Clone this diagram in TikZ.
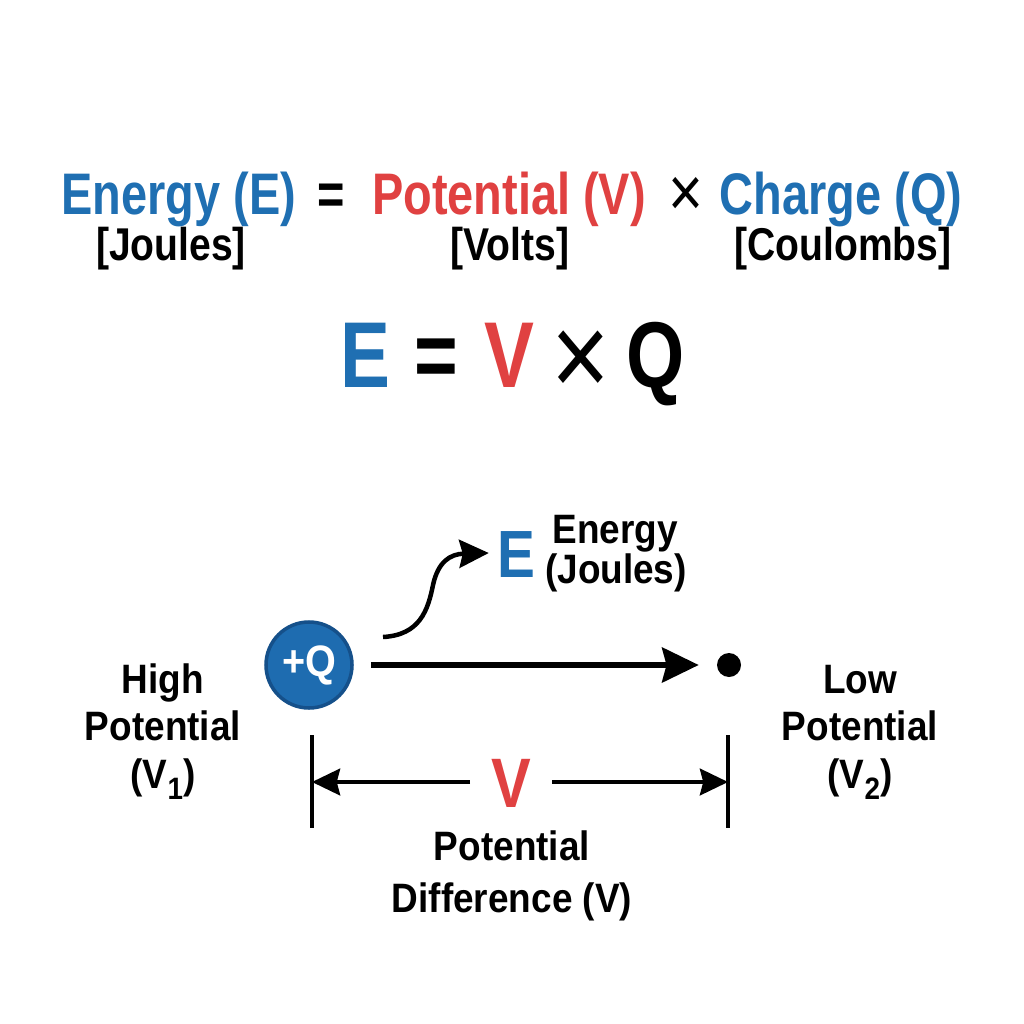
\documentclass[tikz,border=0pt]{standalone}
\usepackage{fontspec}
\setmainfont{Liberation Sans}[FakeStretch=0.85]
\newfontfamily\tfont{Liberation Sans}[FakeStretch=0.8]
\newfontfamily\lfont{Liberation Sans}[FakeStretch=0.9]
\usetikzlibrary{arrows.meta}
\definecolor{eblue}{HTML}{1F6FB2}
\definecolor{vred}{HTML}{E04141}
\definecolor{cblue}{HTML}{1E6CB0}
\definecolor{cdark}{HTML}{15508A}
\tikzset{
  txt/.style={inner sep=0pt, anchor=base, font=\bfseries\fontsize{#1}{#1}\selectfont},
  ttxt/.style={inner sep=0pt, anchor=base, font=\tfont\bfseries\fontsize{#1}{#1}\selectfont},
  sym/.style={inner sep=0pt, anchor=center, font=\fontsize{#1}{#1}\selectfont},
  title/.style={ttxt=41.7pt},
  unit/.style={txt=32.7pt},
  big/.style={ttxt=66.5pt},
  lab/.style={inner sep=0pt, anchor=base, align=center, font=\lfont\bfseries\fontsize{29.2pt}{29.2pt}\selectfont},
  tip/.style={-{Stealth[length=#1, inset=0.12*#1, width=0.95*#1]}},
}
\newcommand{\subsc}[1]{\raisebox{-0.28em}{\fontsize{22pt}{22pt}\selectfont #1}}
\begin{document}
\begin{tikzpicture}[x=0.025cm, y=-0.025cm]
\useasboundingbox[fill=white] (0,0) rectangle (1024,1024);
% title line
\node[title, text=eblue] (tE) at (179,215) {Energy (E)};
\node[title] (teq) at (331,215) {=};
\node[title, text=vred] (tV) at (509,215) {Potential (V)};
\node[sym=50pt, line width=0pt] (tx) at (686,197) {×};
\node[title, text=eblue] (tQ) at (841,215) {Charge (Q)};
% units
\node[unit] (uJ) at (171,260) {[Joules]};
\node[unit] (uV) at (510,260) {[Volts]};
\node[unit] (uC) at (843,260) {[Coulombs]};
% big formula
\node[big, text=eblue] (bE) at (365,387) {E};
\node[big] (beq) at (436,387) {=};
\node[big, text=vred] (bV) at (509,387) {V};
\node[sym=84pt] (bx) at (581,364) {×};
\node[big] (bQ) at (656,387) {Q};
% charge and path
\node[circle, fill=cblue, draw=cdark, line width=2.5pt, minimum size=86*0.025cm, inner sep=0pt,
      text=white, font=\lfont\bfseries\fontsize{31.3pt}{31.3pt}\selectfont] (q) at (309,665) {+Q};
\node[circle, fill=black, minimum size=24*0.025cm, inner sep=0pt] (dot) at (729,665) {};
\draw[line width=4.3pt, tip=26pt] (q.east) ++(17,0) coordinate (qs) -- ([xshift=-18*0.025cm]dot.west);
% energy label
\node[txt=47.5pt, text=eblue] (sE) at (516,577) {E};
\node[lab] (en1) at (615,543) {Energy};
\node[lab] (en2) at (616,583) {(Joules)};
\coordinate (cs) at (383,637);
\coordinate (cm) at (433,585);
\draw[line width=3.2pt, tip=21pt] (cs) .. controls (420,635) and (428,610) .. (cm)
   .. controls (438,562) and (450,554) .. ([xshift=-8*0.025cm]sE.west |- 0,553);
% side labels
\node[lab] (h1) at (163,693) {High};
\node[lab] (h2) at (163,740) {Potential};
\node[lab] (h3) at (163,788) {(V\subsc{1})};
\node[lab] (l1) at (860,693) {Low};
\node[lab] (l2) at (860,740) {Potential};
\node[lab] (l3) at (860,788) {(V\subsc{2})};
% dimension
\coordinate (bLt) at (312,735); \coordinate (bLb) at (312,828);
\coordinate (bRt) at (728,735); \coordinate (bRb) at (728,828);
\draw[line width=2.9pt] (bLt) -- (bLb);
\draw[line width=2.9pt] (bRt) -- (bRb);
\coordinate (bLm) at (312,782); \coordinate (bRm) at (728,782);
\node[txt=49.8pt, text=vred] (dV) at (511,807) {V};
\coordinate (dl) at (470,782); \coordinate (dr) at (552,782);
\draw[line width=2.6pt, tip=20pt] (dl) -- (bLm);
\draw[line width=2.6pt, tip=20pt] (dr) -- (bRm);
\node[lab] (p1) at (512,860) {Potential};
\node[lab] (p2) at (512,912) {Difference (V)};
\end{tikzpicture}
\end{document}
